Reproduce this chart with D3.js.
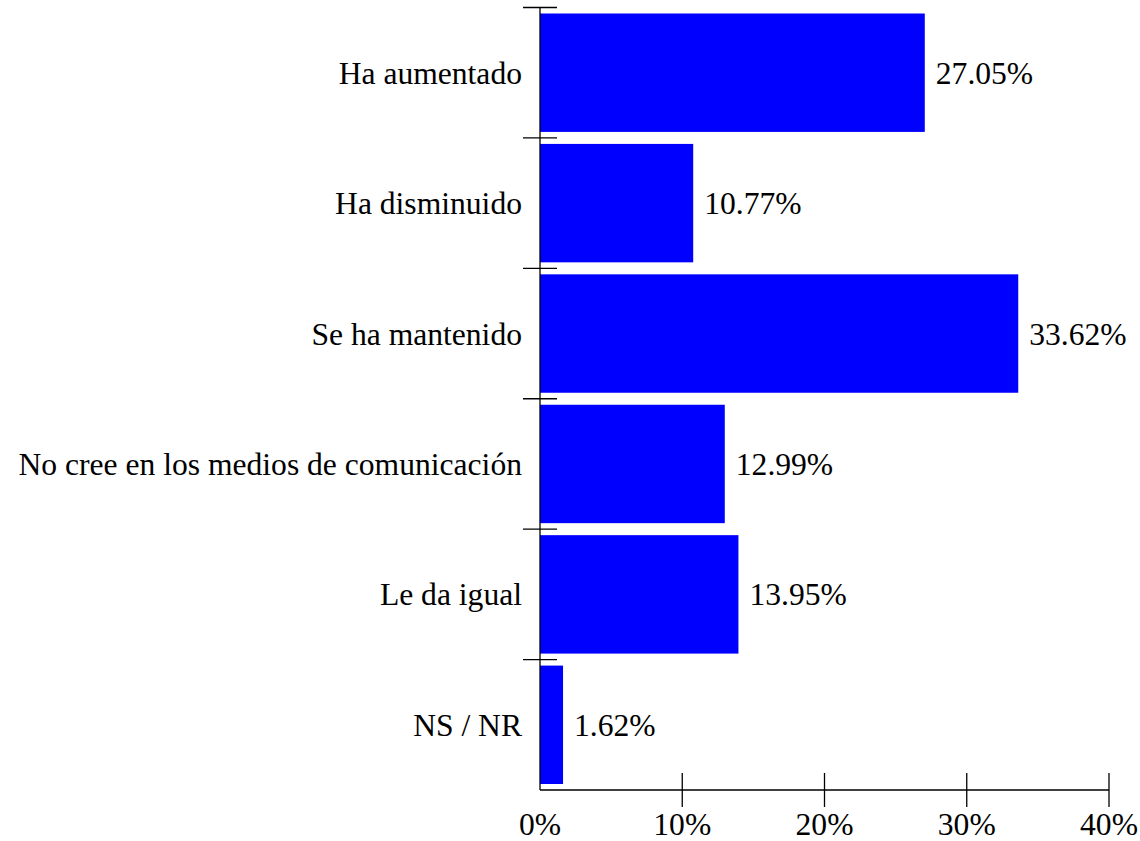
<!DOCTYPE html>
<html><head><meta charset="utf-8">
<script src="https://cdn.jsdelivr.net/npm/d3@7"></script>
<style>body{margin:0;background:#fff}svg{display:block}text{font-family:"Liberation Serif","Times New Roman",serif;fill:#000}</style>
</head><body>
<svg id="c" width="1140" height="841"></svg>
<script>
const categories = ["Ha aumentado","Ha disminuido","Se ha mantenido","No cree en los medios de comunicación","Le da igual","NS / NR"];
const values = [27.05,10.77,33.62,12.99,13.95,1.62];
const valueLabels = ["27.05%","10.77%","33.62%","12.99%","13.95%","1.62%"];
const xTicks = [0,10,20,30,40];
const xTickLabels = ["0%","10%","20%","30%","40%"];

const svg = d3.select("#c");
const x0 = 540, x1 = 1109, yTop = 7.5, yBot = 790;
const x = d3.scaleLinear().domain([0,40]).range([x0,x1]);
const y = d3.scaleBand().domain(categories).range([yTop,yBot]).paddingInner(0.092).paddingOuter(0.046);
const yEdge = d3.scaleBand().domain(categories).range([yTop,yBot]).padding(0);
const fs = 31.6;

// bars
svg.append("g").selectAll("rect").data(categories).join("rect")
  .attr("x", x(0)).attr("y", d=>y(d))
  .attr("width", (d,i)=>x(values[i])-x(0)).attr("height", y.bandwidth())
  .attr("fill","#0000ff");

// value labels
svg.append("g").selectAll("text").data(categories).join("text")
  .attr("x",(d,i)=>x(values[i])+11).attr("y",d=>yEdge(d)+yEdge.bandwidth()/2)
  .attr("dy","0.35em").attr("font-size",fs).text((d,i)=>valueLabels[i]);

// category labels
svg.append("g").selectAll("text").data(categories).join("text")
  .attr("x", x0-18).attr("y",d=>yEdge(d)+yEdge.bandwidth()/2)
  .attr("dy","0.35em").attr("text-anchor","end").attr("font-size",fs).text(d=>d);

// left axis
const ax = svg.append("g").attr("stroke","#000").attr("stroke-width",1.3);
ax.append("line").attr("x1",x0).attr("x2",x0).attr("y1",yTop).attr("y2",yBot);
ax.selectAll("line.t").data(categories).join("line").attr("class","t")
  .attr("x1",x0-17).attr("x2",x0+17).attr("y1",d=>yEdge(d)).attr("y2",d=>yEdge(d));

// bottom axis
ax.append("line").attr("x1",x0).attr("x2",x1).attr("y1",yBot).attr("y2",yBot);
ax.selectAll("line.b").data(xTicks.filter(v=>v>0)).join("line").attr("class","b")
  .attr("x1",d=>x(d)).attr("x2",d=>x(d)).attr("y1",yBot-17).attr("y2",yBot+17);
svg.append("g").selectAll("text").data(xTicks).join("text")
  .attr("x",d=>x(d)).attr("y",835).attr("text-anchor","middle").attr("font-size",fs)
  .text((d,i)=>xTickLabels[i]);
</script>
</body></html>
